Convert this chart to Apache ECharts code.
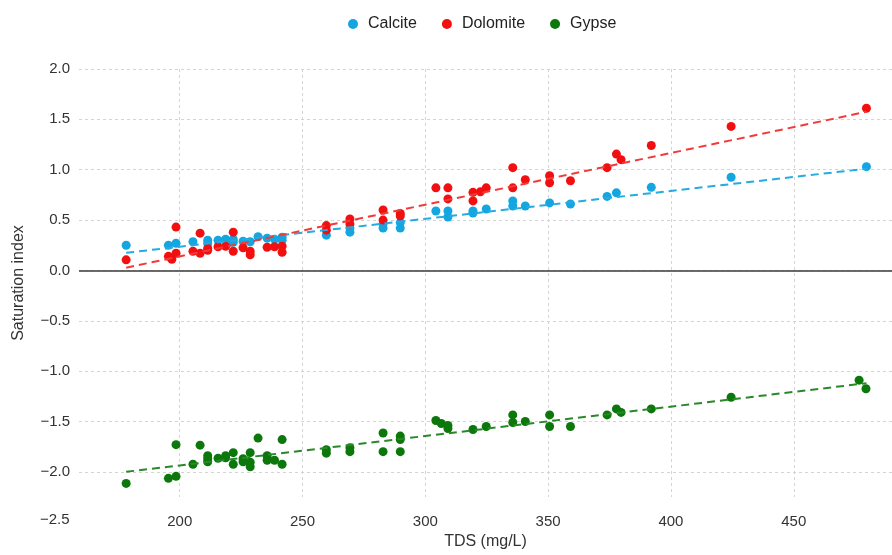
<!DOCTYPE html>
<html>
<head>
<meta charset="utf-8">
<title>Saturation index vs TDS</title>
<script src="https://cdn.jsdelivr.net/npm/echarts@6/dist/echarts.min.js"></script>
<style>
  html, body { margin: 0; padding: 0; background: #ffffff; }
  #chart { width: 892px; height: 555px; }
</style>
</head>
<body>
<div id="chart"></div>
<script>
// Sample points: [TDS (mg/L), saturation index]
const calcite = [
  [178.2, 0.25], [195.4, 0.25], [198.5, 0.27], [205.4, 0.285], [211.4, 0.30],
  [211.4, 0.27], [215.6, 0.30], [218.7, 0.31], [221.8, 0.31], [221.8, 0.28],
  [225.8, 0.29], [228.7, 0.285], [231.9, 0.335], [235.6, 0.32], [238.6, 0.31],
  [241.7, 0.33], [241.7, 0.30],
  [259.7, 0.35], [269.3, 0.38], [269.3, 0.42], [282.8, 0.42], [282.8, 0.46],
  [289.8, 0.42], [289.8, 0.475], [304.3, 0.59], [309.2, 0.59], [309.2, 0.53],
  [319.4, 0.59], [319.4, 0.57], [324.8, 0.61], [335.6, 0.69], [335.6, 0.64],
  [340.7, 0.64], [350.6, 0.67], [359.1, 0.66], [374.0, 0.735], [377.8, 0.77],
  [392.0, 0.825], [424.5, 0.925], [479.6, 1.03]
];
const dolomite = [
  [178.2, 0.105], [195.4, 0.14], [196.8, 0.11], [198.5, 0.17], [198.5, 0.43],
  [205.4, 0.19], [208.3, 0.37], [208.3, 0.17], [211.4, 0.20], [211.4, 0.22],
  [215.6, 0.235], [218.7, 0.24], [221.8, 0.38], [221.8, 0.19], [225.8, 0.225],
  [228.7, 0.19], [228.7, 0.155], [235.6, 0.23], [238.6, 0.235], [241.7, 0.24],
  [241.7, 0.18],
  [259.7, 0.445], [259.7, 0.40], [269.3, 0.51], [269.3, 0.46], [282.8, 0.60],
  [282.8, 0.50], [289.8, 0.565], [289.8, 0.54], [304.3, 0.82], [309.2, 0.82],
  [309.2, 0.71], [319.4, 0.775], [319.4, 0.69], [322.4, 0.78], [324.8, 0.82],
  [335.6, 1.02], [335.6, 0.82], [340.7, 0.90], [350.6, 0.94], [350.6, 0.87],
  [359.1, 0.89], [374.0, 1.02], [377.8, 1.155], [379.7, 1.10], [392.0, 1.24],
  [424.5, 1.43], [479.6, 1.61]
];
const gypse = [
  [178.2, -2.115], [195.4, -2.065], [198.5, -2.045], [198.5, -1.73], [205.4, -1.925],
  [208.3, -1.735], [211.4, -1.84], [211.4, -1.90], [211.4, -1.87], [215.6, -1.865],
  [218.7, -1.84], [218.7, -1.86], [221.8, -1.81], [221.8, -1.925], [225.8, -1.90],
  [225.8, -1.87], [228.7, -1.81], [228.7, -1.905], [228.7, -1.95], [231.9, -1.665],
  [235.6, -1.84], [235.6, -1.885], [238.6, -1.885], [241.7, -1.68], [241.7, -1.925],
  [259.7, -1.78], [259.7, -1.815], [269.3, -1.76], [269.3, -1.80], [282.8, -1.615],
  [282.8, -1.80], [289.8, -1.645], [289.8, -1.68], [289.8, -1.80], [304.3, -1.49],
  [306.5, -1.52], [309.2, -1.54], [309.2, -1.57], [319.4, -1.58], [324.8, -1.55],
  [335.6, -1.435], [335.6, -1.51], [340.7, -1.50], [350.6, -1.435], [350.6, -1.55],
  [359.1, -1.55], [374.0, -1.435], [377.8, -1.375], [379.7, -1.41], [392.0, -1.375],
  [424.5, -1.26], [476.6, -1.09], [479.4, -1.175]
];

// Fitted trend lines, end points [TDS, SI]
const calciteTrend = [[178.2, 0.175], [479.6, 1.01]];
const dolomiteTrend = [[178.2, 0.027], [479.6, 1.575]];
const gypseTrend = [[178.2, -2.0], [479.6, -1.12]];

const seriesNames = ['Calcite', 'Dolomite', 'Gypse'];
const bottomYLabel = '-2.5';

const colors = { Calcite: '#14a6e0', Dolomite: '#f20f0f', Gypse: '#0c780c' };
const trendColors = { Calcite: '#25abe2', Dolomite: '#f23a3a', Gypse: '#2a882a' };

const chart = echarts.init(document.getElementById('chart'), null, { renderer: 'canvas' });

const font = '"Liberation Sans", Arial, Helvetica, sans-serif';
const minus = v => String(v).replace('-', '\u2212');

function scatter(name, data) {
  return {
    name, type: 'scatter', data, symbol: 'circle', symbolSize: 9,
    itemStyle: { color: colors[name], opacity: 1 }, z: 3
  };
}
function trend(name, data) {
  return {
    name: name + ' trend', type: 'line', data, symbol: 'none', silent: true,
    lineStyle: { color: trendColors[name], width: 2, type: [8, 5] }, z: 4
  };
}

chart.setOption({
  backgroundColor: '#ffffff',
  animation: false,
  textStyle: { fontFamily: font },
  legend: {
    data: seriesNames,
    top: 11, left: 343,
    icon: 'circle', itemWidth: 10, itemHeight: 10, itemGap: 25,
    textStyle: { fontSize: 16, color: '#222', fontFamily: font, padding: [0, 0, 0, 5] }
  },
  grid: { left: 79, right: 0, top: 69, bottom: 52 },
  xAxis: {
    type: 'value', min: 159, max: 490, splitNumber: 6,
    name: 'TDS (mg/L)', nameLocation: 'middle', nameGap: 37,
    nameTextStyle: { fontSize: 16, color: '#333', fontFamily: font },
    axisLine: { show: false }, axisTick: { show: false },
    axisLabel: { fontSize: 15, color: '#333', margin: 17, showMinLabel: false, showMaxLabel: false },
    splitLine: { show: true, showMinLine: false, showMaxLine: false,
      lineStyle: { color: '#d4d4d4', width: 1, type: [3, 3] } }
  },
  yAxis: {
    type: 'value', min: -2.25, max: 2, splitNumber: 9,
    name: 'Saturation index', nameLocation: 'middle', nameGap: 52,
    nameTextStyle: { fontSize: 16, color: '#333', fontFamily: font },
    axisLine: { show: false }, axisTick: { show: false },
    axisLabel: { fontSize: 15, color: '#333', margin: 9, showMinLabel: false,
      formatter: v => minus(v.toFixed(1)) },
    splitLine: { show: true, showMinLine: false,
      lineStyle: { color: '#d4d4d4', width: 1, type: [3, 3] } }
  },
  graphic: [{
    type: 'text', left: 40, top: 512,
    style: { text: minus(bottomYLabel), fontSize: 15, fill: '#333', font: '15px ' + font }
  }],
  series: [
    Object.assign(scatter('Calcite', calcite), {
      markLine: {
        silent: true, symbol: 'none', label: { show: false },
        lineStyle: { color: '#3a3a3a', width: 1.5, type: 'solid' },
        data: [{ yAxis: 0 }]
      }
    }),
    scatter('Dolomite', dolomite),
    scatter('Gypse', gypse),
    trend('Calcite', calciteTrend),
    trend('Dolomite', dolomiteTrend),
    trend('Gypse', gypseTrend)
  ]
});
</script>
</body>
</html>
